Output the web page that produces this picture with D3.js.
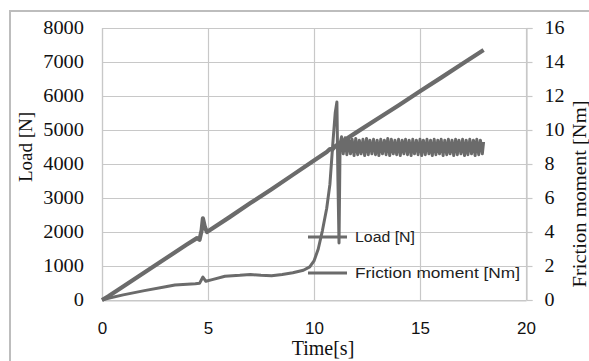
<!DOCTYPE html>
<html>
<head>
<meta charset="utf-8">
<script src="https://cdn.jsdelivr.net/npm/d3@7"></script>
<style>
  html, body { margin: 0; padding: 0; background: #fff; }
  svg { display: block; }
</style>
</head>
<body>
<svg id="chart" width="589" height="361"></svg>
<script>
// ---------- data ----------
const xTicks = [0, 5, 10, 15, 20];
const loadTicks = [0, 1000, 2000, 3000, 4000, 5000, 6000, 7000, 8000];
const fricTicks = [0, 2, 4, 6, 8, 10, 12, 14, 16];

const loadTime = [0, 0.3, 1, 2, 3, 4, 4.48, 4.6, 4.7, 4.76, 4.85, 4.95, 6, 7, 8, 9, 10, 10.6, 10.75, 10.85, 11, 11.3, 12, 13, 14, 15, 16, 17, 18];
const loadValues = [0, 110, 400, 810, 1220, 1630, 1820, 1770, 2050, 2400, 2150, 2000, 2430, 2850, 3260, 3680, 4100, 4350, 4440, 4420, 4520, 4650, 4930, 5330, 5730, 6140, 6540, 6950, 7350];

const fricTime = [0, 0.3, 1, 2, 3, 3.44, 4.4, 4.6, 4.76, 4.9, 5.2, 5.8, 6.5, 7, 7.5, 8, 8.5, 9, 9.5, 9.8, 10.0, 10.2, 10.4, 10.6, 10.75, 10.9, 11.0, 11.08, 11.13, 11.18, 11.23,
  11.30, 11.38, 11.47, 11.55, 11.64, 11.72, 11.80, 11.89, 11.97, 12.06, 12.14, 12.22, 12.31, 12.39, 12.48, 12.56, 12.64, 12.73, 12.81, 12.90,
  12.98, 13.06, 13.15, 13.23, 13.32, 13.40, 13.48, 13.57, 13.65, 13.74, 13.82, 13.90, 13.99, 14.07, 14.16, 14.24, 14.32, 14.41, 14.49, 14.58,
  14.66, 14.74, 14.83, 14.91, 15.00, 15.08, 15.16, 15.25, 15.33, 15.42, 15.50, 15.58, 15.67, 15.75, 15.84, 15.92, 16.00, 16.09, 16.17, 16.26,
  16.34, 16.42, 16.51, 16.59, 16.68, 16.76, 16.84, 16.93, 17.01, 17.10, 17.18, 17.26, 17.35, 17.43, 17.52, 17.60, 17.68, 17.77, 17.85, 17.94, 18.0];
const fricValues = [0, 0.1, 0.3, 0.55, 0.78, 0.88, 0.95, 0.98, 1.35, 1.1, 1.2, 1.4, 1.45, 1.5, 1.45, 1.42, 1.5, 1.6, 1.75, 1.95, 2.3, 3.0, 4.1, 5.4, 6.8, 9.4, 11.0, 11.65, 7.0, 3.35, 9.2,
  9.6, 8.6, 9.55, 8.55, 9.5, 8.6, 9.45, 8.5, 9.5, 8.55, 9.4, 8.6, 9.45, 8.5, 9.5, 8.55, 9.4, 8.6, 9.45, 8.55,
  9.4, 8.5, 9.45, 8.6, 9.4, 8.55, 9.5, 8.5, 9.45, 8.6, 9.4, 8.55, 9.45, 8.5, 9.4, 8.6, 9.45, 8.55, 9.4, 8.5,
  9.45, 8.6, 9.4, 8.55, 9.45, 8.5, 9.4, 8.55, 9.45, 8.6, 9.4, 8.5, 9.45, 8.55, 9.4, 8.6, 9.45, 8.5, 9.4, 8.55,
  9.45, 8.6, 9.4, 8.5, 9.45, 8.55, 9.4, 8.6, 9.45, 8.5, 9.4, 8.55, 9.45, 8.6, 9.4, 8.5, 9.45, 8.55, 9.4, 8.6, 9.3];

const seriesNames = ["Load [N]", "Friction moment [Nm]"];

// ---------- layout ----------
const svg = d3.select("#chart");
const L = 102, R = 526, T = 28, B = 300;
const lineColor = "#6b6b6b";
const gridColor = "#c8c8c8";
const serif = "'Liberation Serif', 'Times New Roman', serif";
const sans = "'Liberation Sans', Arial, sans-serif";

const x = d3.scaleLinear().domain([0, 20]).range([L, R]);
const yL = d3.scaleLinear().domain([0, 8000]).range([B, T]);
const yR = d3.scaleLinear().domain([0, 16]).range([B, T]);

// outer border
svg.append("path")
  .attr("d", `M10,362 L10,11 L590,11`)
  .attr("fill", "none").attr("stroke", "#bdbdbd").attr("stroke-width", 2);

// gridlines
svg.append("g").selectAll("line").data(loadTicks).join("line")
  .attr("x1", L).attr("x2", R)
  .attr("y1", d => Math.round(yL(d)) + 0.5).attr("y2", d => Math.round(yL(d)) + 0.5)
  .attr("stroke", gridColor).attr("stroke-width", 1.2);
svg.append("g").selectAll("line").data(xTicks).join("line")
  .attr("y1", T).attr("y2", B)
  .attr("x1", d => Math.round(x(d)) + 0.5).attr("x2", d => Math.round(x(d)) + 0.5)
  .attr("stroke", gridColor).attr("stroke-width", 1.2);

// left axis
const gL = svg.append("g").attr("transform", `translate(${L},0)`)
  .call(d3.axisLeft(yL).tickValues(loadTicks).tickSize(0).tickPadding(18).tickFormat(d3.format("d")));
gL.select(".domain").attr("stroke", gridColor).attr("stroke-width", 1.2);
gL.selectAll("text").attr("font-family", serif).attr("font-size", 18).attr("fill", "#111")
  .attr("textLength", d => String(d).length * 10.2).attr("lengthAdjust", "spacingAndGlyphs");

// right axis
const gR = svg.append("g").attr("transform", `translate(${R + 0.5},0)`)
  .call(d3.axisRight(yR).tickValues(fricTicks).tickSize(6).tickPadding(12).tickFormat(d3.format("d")));
gR.select(".domain").attr("stroke", gridColor).attr("stroke-width", 1.2);
gR.selectAll(".tick line").attr("stroke", gridColor).attr("stroke-width", 1.2);
gR.selectAll("text").attr("font-family", serif).attr("font-size", 18).attr("fill", "#111")
  .attr("textLength", d => String(d).length * 10).attr("lengthAdjust", "spacingAndGlyphs");

// bottom axis
const gB = svg.append("g").attr("transform", `translate(0,${B + 0.5})`)
  .call(d3.axisBottom(x).tickValues(xTicks).tickSize(0).tickFormat(d3.format("d")));
gB.select(".domain").attr("stroke", gridColor).attr("stroke-width", 1.2);
gB.selectAll("text").attr("font-family", sans).attr("font-size", 17).attr("fill", "#111")
  .attr("y", 33).attr("dy", "0");

// axis titles
svg.append("text").attr("transform", `translate(32,147) rotate(-90)`)
  .attr("text-anchor", "middle").attr("font-family", serif).attr("font-size", 19).attr("fill", "#111")
  .text("Load [N]");
svg.append("text").attr("x", 323).attr("y", 355)
  .attr("text-anchor", "middle").attr("font-family", serif).attr("font-size", 20).attr("fill", "#111")
  .text("Time[s]");
svg.append("text").attr("transform", `translate(586,194) rotate(-90)`)
  .attr("text-anchor", "middle").attr("font-family", serif).attr("font-size", 19).attr("fill", "#111")
  .attr("textLength", 187).attr("lengthAdjust", "spacingAndGlyphs")
  .text("Friction moment [Nm]");

// lines
const loadData = loadTime.map((t, i) => [t, loadValues[i]]);
const fricData = fricTime.map((t, i) => [t, fricValues[i]]);

svg.append("path").datum(loadData)
  .attr("fill", "none").attr("stroke", lineColor).attr("stroke-width", 4.2).attr("stroke-linejoin", "round")
  .attr("d", d3.line().x(d => x(d[0])).y(d => yL(d[1])));

svg.append("path").datum(fricData)
  .attr("fill", "none").attr("stroke", lineColor).attr("stroke-width", 3).attr("stroke-linejoin", "round")
  .attr("d", d3.line().x(d => x(d[0])).y(d => yR(d[1])));

// legend
const legY = [237, 273];
const legW = [60, 165];
seriesNames.forEach((name, i) => {
  svg.append("line").attr("x1", 308).attr("x2", 347).attr("y1", legY[i]).attr("y2", legY[i])
    .attr("stroke", lineColor).attr("stroke-width", 3);
  svg.append("text").attr("x", 355).attr("y", legY[i] + 5)
    .attr("font-family", sans).attr("font-size", 14).attr("fill", "#222")
    .attr("textLength", legW[i]).attr("lengthAdjust", "spacingAndGlyphs")
    .text(name);
});
</script>
</body>
</html>
